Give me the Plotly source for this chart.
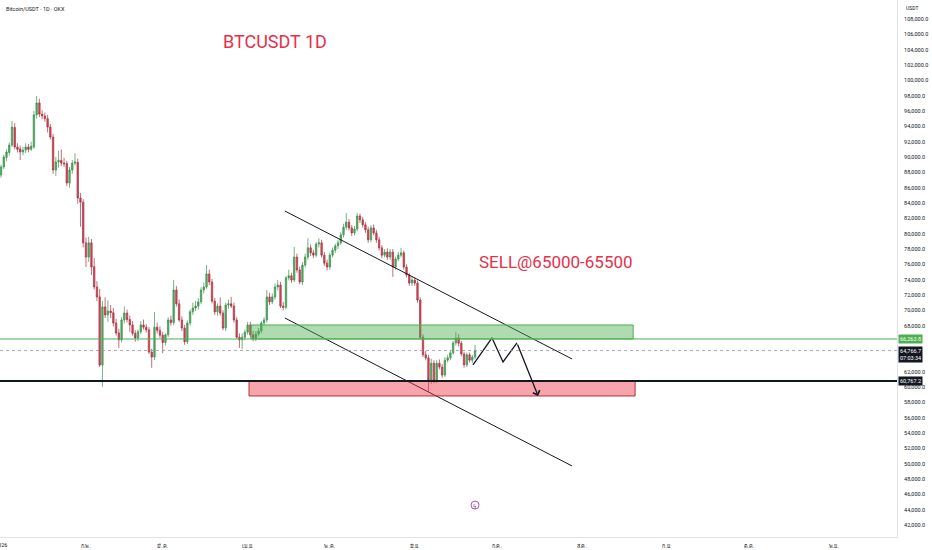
import pandas as pd
import plotly.graph_objects as go

# daily candles BTC/USDT (OKX), starting 1 Jan 2026
open_ = [87650, 88700, 89950, 90600, 91550, 93850, 91300, 91050, 90650, 90900,
         91300, 91000, 91300, 95500, 97050, 95600, 95350, 95000, 93900, 92600,
         88300, 89350, 89550, 89200, 89150, 86600, 88300, 89200, 89300, 84650,
         84100, 78800, 76950, 78800, 75700, 73050, 71750, 62870, 70450, 69400,
         69900, 69700, 68350, 67050, 66150, 68750, 69650, 68800, 68100, 67000,
         66400, 67200, 68100, 67800, 67450, 64550, 63900, 67800, 67400, 66750,
         65800, 66800, 68750, 68400, 72650, 70850, 68750, 67700, 65900, 68350,
         69800, 70300, 70550, 71100, 72650, 73050, 74750, 73700, 71200, 69800,
         70550, 69650, 67700, 70700, 70850, 70550, 68750, 66500, 66150, 66500,
         67150, 68100, 66800, 66400, 66900, 67300, 68350, 68750, 71750, 71100,
         71750, 73050, 73300, 70550, 70400, 74250, 74500, 73950, 76950, 75250,
         73700, 75900, 76950, 78150, 77500, 77200, 78650, 78800, 77200, 76150,
         75650, 77200, 77850, 78400, 78800, 79850, 80850, 81500, 80750, 80100,
         80600, 82300, 81800, 81150, 80500, 79200, 80750, 80100, 79200, 78150,
         77200, 77600, 76950, 77600, 75650, 76700, 77200, 77500, 75650, 74600,
         73550, 73950, 73550, 71350, 66500, 64200, 63800, 60900, 63100, 60800,
         63100, 62600, 61550, 63500, 63800, 64450, 65750, 66400, 65700, 64300,
         62900, 64200, 63500, 63900]
high = [89000, 90300, 91000, 91900, 94700, 94400, 91800, 91500, 91300, 91800,
        91700, 92000, 96000, 97950, 97600, 96100, 95800, 95500, 94300, 93000,
        90000, 90800, 91000, 89900, 89500, 88700, 89600, 90500, 89800, 85300,
        84500, 79500, 79600, 79300, 76800, 73800, 72800, 71200, 71700, 71300,
        70700, 70300, 68900, 67600, 69100, 70500, 70100, 69300, 68600, 67400,
        67500, 68600, 68800, 68200, 67800, 65000, 69800, 68400, 67900, 67200,
        67000, 69100, 69300, 73950, 73200, 71400, 69200, 68100, 68700, 70100,
        71000, 71200, 71600, 73000, 73600, 75900, 75300, 74100, 71600, 70900,
        71700, 70000, 71000, 71400, 71750, 71000, 69100, 67000, 67000, 67500,
        68500, 68500, 67300, 67300, 67700, 68600, 69100, 72650, 72300, 72200,
        73500, 73950, 73700, 71100, 74500, 75300, 74900, 78250, 77400, 75700,
        76300, 77400, 79400, 78600, 77900, 78900, 79400, 79200, 77600, 76600,
        77500, 78200, 78700, 79200, 80200, 81300, 82700, 81900, 81100, 81000,
        82700, 82600, 82200, 81500, 80900, 81100, 81200, 80500, 79600, 78500,
        78000, 78100, 78000, 78000, 77000, 77600, 78150, 77800, 76000, 74900,
        74400, 74300, 73900, 71700, 66900, 64700, 64200, 63700, 63500, 63500,
        63600, 63000, 63900, 64200, 64800, 66000, 67200, 66900, 66000, 64600,
        64500, 64500, 64200, 65480]
low = [87300, 88400, 89500, 90200, 91300, 91000, 90600, 89600, 90200, 90500,
       90600, 90800, 91100, 95000, 95200, 94900, 94600, 93200, 92300, 87800,
       87500, 88600, 88800, 88700, 86200, 86000, 87800, 88900, 83900, 80900,
       78200, 75650, 76300, 74600, 72700, 71200, 62600, 60000, 69000, 68500,
       69000, 67900, 66700, 65100, 65800, 68300, 68400, 67200, 66700, 65900,
       66000, 66900, 67500, 67100, 64300, 62500, 63500, 67000, 66400, 64400,
       65400, 66500, 68000, 68100, 70500, 68500, 67300, 65500, 65600, 68000,
       69400, 69900, 70100, 70800, 72200, 72800, 73300, 70900, 69400, 69300,
       69300, 67400, 67300, 70200, 70300, 68400, 66300, 65100, 64950, 66100,
       66800, 66500, 66000, 66000, 66600, 67000, 68000, 68400, 70700, 70800,
       71400, 72600, 70300, 70000, 70100, 73900, 73600, 73700, 74900, 73400,
       73300, 75600, 76600, 77100, 76800, 76900, 78200, 76900, 75800, 75200,
       75300, 76900, 77500, 78000, 78500, 79500, 80500, 80400, 79700, 79800,
       80300, 81400, 80800, 80100, 78800, 78900, 79800, 78800, 77800, 76800,
       76900, 76600, 76600, 74350, 75300, 76400, 76900, 75300, 74300, 73200,
       73200, 73200, 71000, 66200, 63900, 63500, 59350, 60400, 60500, 60500,
       62300, 61200, 61300, 63200, 63500, 64200, 65400, 65300, 64000, 62500,
       62600, 63200, 63100, 63600]
close = [88700, 90000, 90650, 91550, 93900, 91300, 91000, 90650, 90900, 91300,
         91000, 91400, 95500, 97050, 95600, 95350, 95000, 93900, 92600, 88300,
         89350, 89550, 89200, 89100, 86600, 88300, 89200, 89350, 84650, 84100,
         78800, 76950, 78800, 75650, 73050, 71750, 62870, 70450, 69400, 69900,
         69700, 68350, 67050, 66150, 68750, 69650, 68800, 68100, 67000, 66400,
         67200, 68100, 67800, 67450, 64550, 63900, 67800, 67400, 66750, 65800,
         66800, 68750, 68400, 72650, 70850, 68750, 67700, 65900, 68350, 69800,
         70300, 70550, 71100, 72650, 73050, 74750, 73700, 71200, 69800, 70550,
         69650, 67700, 70700, 70850, 70550, 68750, 66500, 66150, 66500, 67150,
         68100, 66800, 66400, 66900, 67300, 68350, 68750, 71750, 71100, 71750,
         73050, 73300, 70550, 70400, 74250, 74500, 73950, 76950, 75250, 73700,
         75900, 76950, 78150, 77500, 77200, 78650, 78800, 77200, 76150, 75650,
         77200, 77850, 78400, 78800, 79850, 80850, 81500, 80750, 80100, 80600,
         82300, 81800, 81150, 80500, 79200, 80750, 80100, 79200, 78150, 77200,
         77600, 76950, 77600, 75650, 76700, 77200, 77500, 75650, 74600, 73550,
         73950, 73550, 71350, 66500, 64200, 63800, 60900, 63100, 60800, 63100,
         62600, 61550, 63500, 63800, 64450, 65750, 66400, 65700, 64300, 62900,
         64200, 63500, 63900, 64767]
dates = pd.date_range('2026-01-01', periods=len(close), freq='D')

# axis ticks
price_ticks = [42000, 44000, 46000, 48000, 50000, 52000, 54000, 56000, 58000, 60000,
               62000, 68000, 70000, 72000, 74000, 76000, 78000, 80000, 82000, 84000,
               86000, 88000, 90000, 92000, 94000, 96000, 98000, 100000, 102000,
               104000, 106000, 108000]
month_ticks = ['2026-02-01', '2026-03-01', '2026-04-01', '2026-05-01',
               '2026-06-01', '2026-07-01', '2026-08-01', '2026-09-01', '2026-10-01',
               '2026-11-01']
month_labels = ['ก.พ.', 'มี.ค.', 'เม.ย.', 'พ.ค.', 'มิ.ย.', 'ก.ค.', 'ส.ค.',
                'ก.ย.', 'ต.ค.', 'พ.ย.']
year_tick = '2026-01-01'
year_label = '2026'

# levels and drawings
resistance_level = 66263.8
last_price = 64766.7
support_level = 60767.2
countdown = '07:03:34'
green_zone_x = ['2026-04-02 05:00', '2026-08-19 17:00']
green_zone_y = [66263.8, 68090]
red_zone_x = ['2026-04-01 12:00', '2026-08-20 10:00']
red_zone_y = [58830, 60767.2]
channel_x = ['2026-04-14 14:00', '2026-07-28 10:00']
channel_top_y = [82957, 63654]
channel_bot_y = [69001, 49698]
path_x = ['2026-06-22 06:00', '2026-06-29 05:00', '2026-07-03 05:00',
          '2026-07-08 07:00', '2026-07-16 00:00']
path_y = [62871, 66393, 63262, 65741, 58828]

FONT = 'Roboto, "Noto Sans", "DejaVu Sans", sans-serif'
RED = '#e5304a'

fig = go.Figure()
fig.add_trace(go.Candlestick(
    x=dates, open=open_, high=high, low=low, close=close,
    increasing=dict(line=dict(color='#3b8f4e', width=0.7), fillcolor='#55ad63'),
    decreasing=dict(line=dict(color='#a8303f', width=0.7), fillcolor='#d9475a'),
    whiskerwidth=0, showlegend=False, hoverinfo='skip'))

# channel lines and projected path
for ys in (channel_top_y, channel_bot_y):
    fig.add_trace(go.Scatter(x=channel_x, y=ys, mode='lines',
                             line=dict(color='#131722', width=1), showlegend=False, hoverinfo='skip'))
fig.add_trace(go.Scatter(x=path_x[:-1], y=path_y[:-1], mode='lines',
                         line=dict(color='#131722', width=1.3), showlegend=False, hoverinfo='skip'))
fig.add_annotation(x=path_x[-1], y=path_y[-1], ax=path_x[-2], ay=path_y[-2],
                   xref='x', yref='y', axref='x', ayref='y', text='', showarrow=True,
                   arrowhead=4, arrowsize=1.1, arrowwidth=1.3, arrowcolor='#131722')

# zones
fig.add_shape(type='rect', x0=green_zone_x[0], x1=green_zone_x[1], y0=green_zone_y[0], y1=green_zone_y[1],
              fillcolor='rgba(76,175,80,0.45)', line=dict(color='#4caf50', width=1), layer='above')
fig.add_shape(type='rect', x0=red_zone_x[0], x1=red_zone_x[1], y0=red_zone_y[0], y1=red_zone_y[1],
              fillcolor='rgba(242,54,69,0.45)', line=dict(color='#b0303c', width=1), layer='above')

# horizontal levels
fig.add_hline(y=resistance_level, line=dict(color='#4caf50', width=1))
fig.add_hline(y=last_price, line=dict(color='#9598a1', width=0.8, dash='dot'))
fig.add_hline(y=support_level, line=dict(color='#131722', width=2))

# price scale labels
fig.add_annotation(x=1, y=resistance_level, xref='paper', yref='y', xanchor='left', xshift=1,
                   text='66,263.8', showarrow=False, bgcolor='#4caf50', borderpad=1,
                   font=dict(family=FONT, size=5.5, color='white'))
fig.add_annotation(x=1, y=last_price, xref='paper', yref='y', xanchor='left', yanchor='top', xshift=1, yshift=4,
                   text='64,766.7<br>' + countdown, showarrow=False, bgcolor='#131722', borderpad=1,
                   font=dict(family=FONT, size=5.5, color='white'))
fig.add_annotation(x=1, y=support_level, xref='paper', yref='y', xanchor='left', xshift=1,
                   text='60,767.2', showarrow=False, bgcolor='#131722', borderpad=1,
                   font=dict(family=FONT, size=5.5, color='white'))
fig.add_annotation(x=1, y=1, xref='paper', yref='paper', xanchor='left', yanchor='top', xshift=7, yshift=-3,
                   text='USDT', showarrow=False, font=dict(family=FONT, size=5, color='#131722'))

# year label at the left edge, partly cut off like the original
fig.add_annotation(x=year_tick, y=0, xref='x', yref='paper', xanchor='center', yanchor='top', yshift=-3,
                   text=year_label, showarrow=False, font=dict(family=FONT, size=5.5, color='#131722'))

# texts
fig.add_annotation(x=0.004, y=1, xref='paper', yref='paper', xanchor='left', yanchor='top', yshift=-4,
                   text='Bitcoin/USDT · 1D · OKX', showarrow=False,
                   font=dict(family=FONT, size=5.5, color='#131722'))
fig.add_annotation(x=0.3066, y=0.9218, xref='paper', yref='paper', xanchor='center', yanchor='middle',
                   text='BTCUSDT 1D', showarrow=False, font=dict(family=FONT, size=18, color=RED))
fig.add_annotation(x=0.6198, y=0.5121, xref='paper', yref='paper', xanchor='center', yanchor='middle',
                   text='SELL@65000-65500', showarrow=False, font=dict(family=FONT, size=17, color=RED))

# event marker
fig.add_shape(type='circle', xsizemode='pixel', ysizemode='pixel', xanchor='2026-06-23', yanchor=44600,
              x0=-4, x1=4, y0=-4, y1=4, line=dict(color='#9c27b0', width=0.8))
fig.add_annotation(x='2026-06-23', y=44600, text='ϟ', showarrow=False,
                   font=dict(family=FONT, size=6, color='#9c27b0'))

fig.update_layout(
    width=932, height=550,
    margin=dict(l=0, r=35, t=0, b=13),
    paper_bgcolor='white', plot_bgcolor='white',
    font=dict(family=FONT, size=5.5, color='#131722'),
    showlegend=False, boxgap=0.25,
    xaxis=dict(type='date', range=['2025-12-31 15:00', '2026-11-24 00:00'],
               rangeslider=dict(visible=False), tickvals=month_ticks, ticktext=month_labels,
               showgrid=False, zeroline=False, showline=True, linecolor='#e0e3eb', linewidth=1,
               ticks='', automargin=False, ticklabelstandoff=3,
               tickfont=dict(size=5.5, color='#131722')),
    yaxis=dict(side='right', range=[40435, 110478], tickvals=price_ticks, tickformat=',.1f',
               showgrid=False, zeroline=False, showline=True, linecolor='#e0e3eb', linewidth=1,
               ticks='', automargin=False, ticklabelstandoff=5,
               tickfont=dict(size=5.5, color='#131722')),
)

# page body has a default 8px margin; drop it so the chart sits at the window corner
fig.write_html("out.html", config={'displayModeBar': False},
               post_script="document.body.style.margin='0';document.body.style.overflow='hidden';")
